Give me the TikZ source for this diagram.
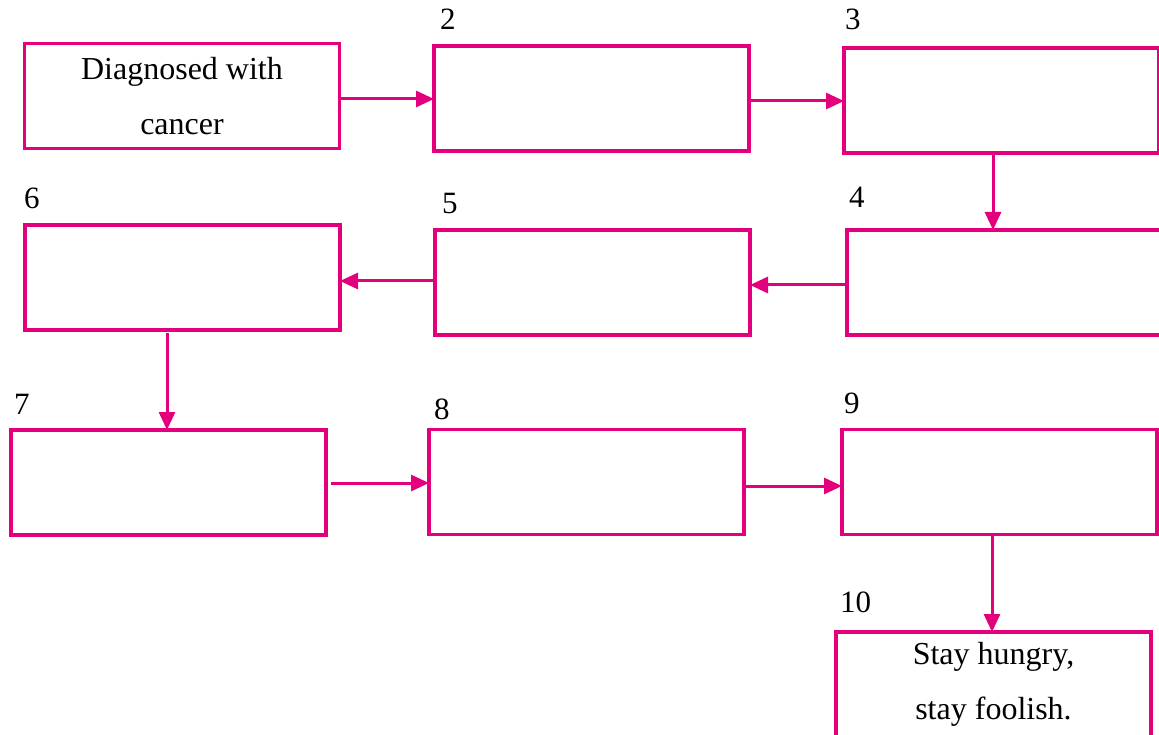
\documentclass[tikz,border=0pt]{standalone}
\usepackage{fontspec}
\setmainfont{Liberation Serif}
\usetikzlibrary{arrows.meta}
\definecolor{mag}{RGB}{228,0,124}
\tikzset{
  box/.style={draw=mag, line width=3.2pt, rectangle, inner sep=0pt, outer sep=0pt,
    minimum width=315pt, minimum height=105pt, align=center,
    font=\fontsize{32}{55}\selectfont},
  num/.style={anchor=base west, inner sep=0pt, font=\fontsize{31}{36}\selectfont},
  arr/.style={draw=mag, line width=3pt, -{Triangle[length=18pt,width=16pt]}}
}
\begin{document}
\begin{tikzpicture}[x=1pt,y=-1pt]
\clip (0,0) rectangle (1159,735);
\fill[white] (0,0) rectangle (1159,735);
\node[box] (b1) at (182,96) {Diagnosed with\\cancer};
\node[box] (b2) at (591.5,98.5) {};
\node[box] (b3) at (1001.5,100.5) {};
\node[box] (b4) at (1004.5,282.5) {};
\node[box] (b5) at (592.5,282.5) {};
\node[box] (b6) at (182.5,277.5) {};
\node[box] (b7) at (168.5,482.5) {};
\node[box] (b8) at (586.5,482) {};
\node[box] (b9) at (999.5,482) {};
\node[box] (b10) at (993.5,684.5) {Stay hungry,\\stay foolish.};
\node[num] (n2) at (440,30) {2};
\node[num] (n3) at (845,30) {3};
\node[num] (n4) at (849,208) {4};
\node[num] (n5) at (442,214) {5};
\node[num] (n6) at (24,209) {6};
\node[num] (n7) at (14,414) {7};
\node[num] (n8) at (434,419) {8};
\node[num] (n9) at (844,413) {9};
\node[num] (n10) at (840,612) {10};
\draw[arr] (b1.east |- 0,99) -- (b2.west |- 0,99);
\draw[arr] (b2.east |- 0,101) -- (b3.west |- 0,101);
\draw[arr] (b3.south -| 993,0) -- (b4.north -| 993,0);
\draw[arr] (b4.west |- 0,285) -- (b5.east |- 0,285);
\draw[arr] (b5.west |- 0,281) -- (b6.east |- 0,281);
\draw[arr, shorten <=3pt] (b6.south -| 167,0) -- (b7.north -| 167,0);
\draw[arr, shorten <=5pt] (b7.east |- 0,483) -- (b8.west |- 0,483);
\draw[arr] (b8.east |- 0,486) -- (b9.west |- 0,486);
\draw[arr] (b9.south -| 992,0) -- (b10.north -| 992,0);
\end{tikzpicture}
\end{document}
